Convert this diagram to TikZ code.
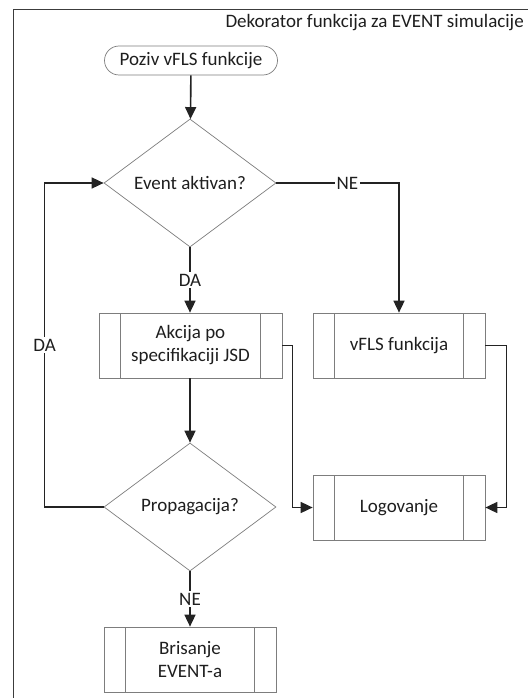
\documentclass[tikz,border=0pt]{standalone}
\usepackage{fontspec}
\setmainfont{Carlito}
\usetikzlibrary{shapes.geometric,shapes.misc,arrows.meta}
\definecolor{bordergray}{RGB}{125,125,125}
\definecolor{lineblack}{RGB}{35,35,35}
\definecolor{txt}{RGB}{30,30,30}
\definecolor{framecol}{RGB}{60,60,60}
\begin{document}
\begin{tikzpicture}[x=1pt,y=-1pt,
  base/.style={draw=bordergray, line width=0.7pt, text=txt, font=\fontsize{19}{23}\selectfont, align=center, inner sep=0pt},
  term/.style={base, rounded rectangle, minimum width=173pt, minimum height=29pt},
  dec/.style={base, diamond, minimum width=172pt, minimum height=128pt},
  proc/.style={base, rectangle, minimum width=#1, minimum height=65pt,
    path picture={
      \draw[bordergray, line width=0.7pt] ([xshift=21.5pt]path picture bounding box.north west) -- ([xshift=21.5pt]path picture bounding box.south west);
      \draw[bordergray, line width=0.7pt] ([xshift=-21.5pt]path picture bounding box.north east) -- ([xshift=-21.5pt]path picture bounding box.south east);
    }},
  conn/.style={draw=lineblack, line width=1.6pt, -{Triangle[length=12pt,width=11pt]}},
  lab/.style={fill=white, inner sep=1.5pt, text=txt, font=\fontsize{19}{23}\selectfont}
]
\useasboundingbox (0,0) rectangle (528,698);
\draw[framecol, line width=1pt] (13.5,698) -- (13.5,10) -- (528,10);
\node[anchor=east, text=txt, font=\fontsize{19}{23}\selectfont, inner sep=0pt] (title) at (524,23) {Dekorator funkcija za EVENT simulacije};

\node[term] (start) at (191,60.5) {Poziv vFLS funkcije};
\node[dec] (d1) at (190,183) {Event aktivan?};
\node[proc=183pt] (b1) at (190.5,345.5) {Akcija po\\specifikaciji JSD};
\node[proc=172pt] (b2) at (399,345.5) {vFLS funkcija};
\node[dec] (d2) at (190,507) {Propagacija?};
\node[proc=172pt] (b4) at (399,507.5) {Logovanje};
\node[proc=172pt] (b3) at (190,659.5) {Brisanje\\EVENT-a};

\draw[conn] (start) -- (d1);
\draw[conn] (d1.south) -- node[lab]{DA} (b1.north -| d1.south);
\draw[conn] (d1.east) -| node[lab,pos=0.29]{NE} (b2.north);
\draw[conn] (b1.south -| d2.north) -- (d2.north);
\draw[conn] (d2.west) -- ++(-59,0) |- node[lab,pos=0.25]{DA} (d1.west);
\draw[conn] (d2.south) -- node[lab]{NE} (b3.north);
\draw[conn] (b1.east) -- ++(10,0) |- (b4.west);
\draw[conn] (b2.east) -- ++(21,0) |- (b4.east);
\end{tikzpicture}
\end{document}
